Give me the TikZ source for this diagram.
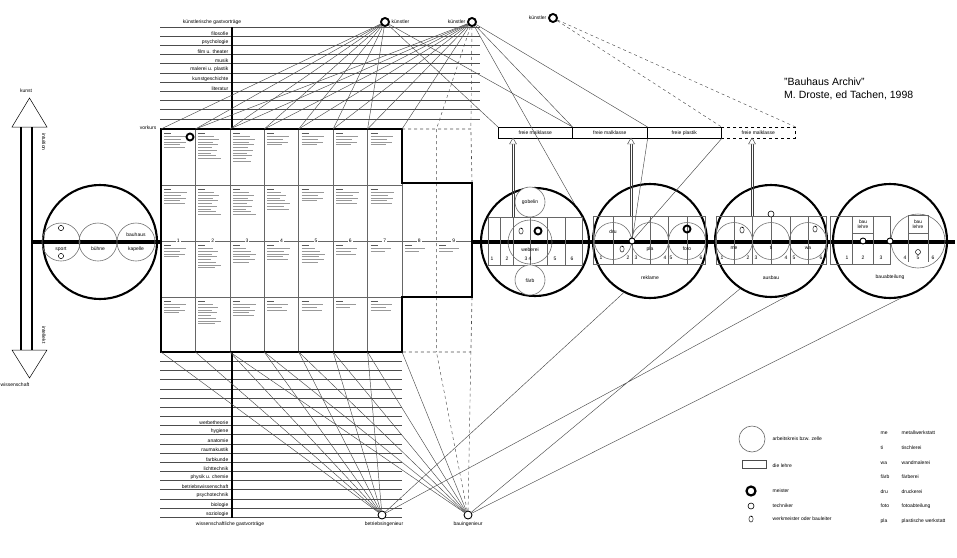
\documentclass[tikz,border=0pt]{standalone}
\usepackage{fontspec}
\setmainfont{Liberation Sans}
\usetikzlibrary{arrows.meta,calc}
\newcommand\celltext[3]{%
  \draw[line width=0.9pt, black!65] ({#1+3},{#2+4}) -- ++(7,0);
  \foreach \j in {1,...,#3} \draw[txt] ({#1+3},{#2+5+2.7*\j}) -- ++({13+mod(5*\j+#3,11)},0);
}
\newcommand\hollowarrow[3]{% x, ybottom, ytop
  \draw[line width=0.45pt, black!75] ({#1-1.1},#2) -- ({#1-1.1},{#3+6}) ({#1+1.1},#2) -- ({#1+1.1},{#3+6});
  \draw[line width=0.45pt, black!75, fill=white] ({#1-3.5},{#3+6}) -- ({#1+3.5},{#3+6}) -- (#1,#3) -- cycle;
}
\begin{document}
\begin{tikzpicture}[x=1pt,y=-1pt,
  bigc/.style={circle, draw, line width=2.1pt, inner sep=0pt},
  inc/.style={draw=black!55, line width=0.6pt},
  thinl/.style={draw=black!70, line width=0.45pt},
  txt/.style={draw=black!40, line width=0.8pt},
  meister/.style={circle, draw, line width=1.9pt, minimum size=8pt, inner sep=0pt},
  techn/.style={circle, draw, line width=0.9pt, fill=white, minimum size=7pt, inner sep=0pt},
  lbl/.style={font=\fontsize{5}{6}\selectfont, inner sep=0.5pt},
  werk/.pic={\draw[line width=0.55pt, black!80] (0,0) ellipse [x radius=2.1, y radius=3.1]; \draw[line width=0.5pt] (0.3,-3.1) -- (0.3,-1.6);},
]
\useasboundingbox (0,0) rectangle (957,557);

% ---------- left arrow kunst / wissenschaft
\draw[line width=0.5pt, fill=white] (12,127) -- (47,127) -- (29.5,98) -- cycle;
\draw[line width=0.5pt, fill=white] (12,350) -- (47,350) -- (29.5,378) -- cycle;
\draw[line width=1.5pt] (21,127) -- (21,350) (32,127) -- (32,350);
\node[lbl] (kunst) at (26,91) {kunst};
\node[lbl, anchor=west] (wiss) at (0,385) {wissenschaft};
\node[lbl, rotate=-90] (intu) at (44,142) {intuition};
\node[lbl, rotate=-90] (intel) at (44,335) {intellekt};

% ---------- main axis
\draw[line width=3.5pt] (32,242) -- (161,242);
\draw[line width=3.5pt] (472,242) -- (955,242);

% ---------- left circle
\node[bigc, minimum size=114pt] (lc) at (100,242) {};
\draw[inc] (61,242) circle[radius=19pt] (98,242) circle[radius=19pt] (136,242) circle[radius=19pt];
\node[lbl] (sport) at (61,249) {sport};
\node[lbl] (buehne) at (98,249) {bühne};
\node[lbl] (bauh) at (136,235) {bauhaus};
\node[lbl] (kap) at (136,249) {kapelle};
\draw[line width=0.5pt] (61,228) circle[radius=2.6pt] (61,256) circle[radius=2.6pt];

% ---------- top list
\foreach \k in {0,...,10} \draw[thinl] (160,{27+9.18*\k}) -- (480,{27+9.18*\k});
\draw[line width=1.8pt] (232,27) -- (232,129);
\node[lbl] (kgv) at (212,22.5) {künstlerische gastvorträge};
\foreach \k/\t in {1/filosofie,2/psychologie,3/film u. theater,4/musik,5/malerei u. plastik,6/kunstgeschichte,7/literatur}
  \node[lbl, anchor=south east] at (229,{27+9.18*\k-0.3}) {\t};

% ---------- bottom list
\foreach \k in {1,...,18} \draw[thinl] (160,{352+9.18*\k}) -- (402,{352+9.18*\k});
\draw[line width=1.8pt] (232,352) -- (232,518);
\foreach \k/\t in {8/werbetheorie,9/hygiene,10/anatomie,11/raumakustik,12/farbkunde,13/lichttechnik,14/physik u. chemie,15/betriebswissenschaft,16/psychotechnik,17/biologie,18/soziologie}
  \node[lbl, anchor=south east] at (229,{352+9.18*\k-0.3}) {\t};
\node[lbl] (wgv) at (230,524.5) {wissenschaftliche gastvorträge};

% ---------- grid
\foreach \i in {0,...,9} {
  \coordinate (t\i) at ({161+34.43*\i},129);
  \coordinate (b\i) at ({161+34.43*\i},352);
}
\foreach \i in {1,...,6} \draw[line width=0.5pt, black!60] ({161+34.43*\i},129) -- ({161+34.43*\i},352);
\draw[line width=0.5pt, black!60] (161,185) -- (402,185) (161,297) -- (402,297) (402,183) -- (402,297);
\draw[line width=0.5pt, black!60] (161,241) -- (472,241);
\draw[line width=0.6pt, black!70, dashed] (t7) -- (t9) -- (472,183) (472,297) -- (b9) -- (b7) (t8) -- (b8);
\draw[line width=1.8pt] (161,129) -- (402,129) -- (402,183) -- (472,183) -- (472,297) -- (402,297) -- (402,352) -- (161,352) -- cycle;
\foreach \i/\n in {0/5,1/9,2/10,3/4,4/4,5/4,6/4} {\pgfmathsetmacro\cx{161+34.43*\i}\celltext{\cx}{129}{\n}}
\foreach \i/\n in {0/5,1/9,2/9,3/7,4/4,5/5,6/5} {\pgfmathsetmacro\cx{161+34.43*\i}\celltext{\cx}{185}{\n}}
\foreach \i/\n in {0/4,1/8,2/6,3/5,4/6,5/3,6/2,7/2,8/2} {\pgfmathsetmacro\cx{161+34.43*\i}\celltext{\cx}{241}{\n}}
\foreach \i/\n in {0/4,1/8,2/5,3/3,4/3,5/2,6/3} {\pgfmathsetmacro\cx{161+34.43*\i}\celltext{\cx}{297}{\n}}
\foreach \i in {1,...,9} \node[lbl, fill=white, inner sep=1pt] at ({161+34.43*\i-17.2},241) {\i};
\node[meister, minimum size=7pt] (vm) at (190,137) {};
\node[lbl, anchor=east] (vork) at (157,128) {vorkurs};

% ---------- künstler
\node[meister] (k1) at (385,22) {};
\node[lbl, anchor=west] at (391,22) {künstler};
\node[meister] (k2) at (472,22) {};
\node[lbl, anchor=east] at (466,22) {künstler};
\node[meister] (k3) at (553,18) {};
\node[lbl, anchor=east] at (547,18) {künstler};

\foreach \i in {0,...,6} \draw[thinl] (k1) -- (t\i);
\foreach \i in {1,...,7} \draw[thinl] (k2) -- (t\i);
\draw[thinl, dashed] (k2) -- (t8) (k2) -- (t9);

% ---------- freie klassen
\node[draw, line width=0.6pt, minimum width=74pt, minimum height=11pt, anchor=north west, lbl] (f1) at (498,127) {freie malklasse};
\node[draw, line width=0.6pt, minimum width=75pt, minimum height=11pt, anchor=north west, lbl] (f2) at (572,127) {freie malklasse};
\node[draw, line width=0.6pt, minimum width=74pt, minimum height=11pt, anchor=north west, lbl] (f3) at (647,127) {freie plastik};
\node[draw, line width=0.6pt, dashed, minimum width=74pt, minimum height=11pt, anchor=north west, lbl] (f4) at (721,127) {freie malklasse};
\draw[thinl] (k1) -- (f1.north west) (k1) -- (f1.north east) (k2) -- (f1.north east) (k2) -- (f2.north east) (k2) -- (582,217);
\draw[thinl, dashed] (k3) -- (f3.north east) (k3) -- (f4.north east);

% ---------- circle A
\node[bigc, minimum size=108pt] (ca) at (535,242) {};
\draw[line width=0.45pt, black!60] (488,217) rectangle (582,265);
\foreach \x in {500,513,530,547,565} \draw[line width=0.45pt, black!60] (\x,217) -- (\x,265);
\draw[inc, fill=white] (530,202) circle[radius=15pt] (530,280) circle[radius=15pt];
\draw[inc] (530,242) circle[radius=22pt];
\node[lbl] (gob) at (530,202) {gobelin};
\node[lbl] (web) at (530,249.5) {weberei};
\node[lbl] (farb) at (530,281) {färb};
\pic at (521,231) {werk};
\node[meister, minimum size=7pt] (ma) at (538,231) {};
\foreach \x/\t in {492/1,507/2,528/3 4,555/5,572/6} \node[lbl] at (\x,259) {\t};
\hollowarrow{513}{217}{138}

% ---------- circle B
\node[bigc, minimum size=114pt] (cb) at (650,241) {};
\draw[line width=0.45pt, black!60] (593,216) rectangle (705,264);
\foreach \x in {613,632,650,668,687} \draw[line width=0.45pt, black!60] (\x,216) -- (\x,264);
\draw[inc] (613,241) circle[radius=18.5pt] (650,241) circle[radius=18.5pt] (687,241) circle[radius=18.5pt];
\node[lbl] (dru) at (613,232) {dru};
\node[lbl] (pla) at (650,249) {pla};
\node[lbl] (foto) at (687,249) {foto};
\pic at (622,249) {werk};
\node[meister, minimum size=7pt] (mb) at (687,229) {};
\foreach \x/\t in {601/1,628/2,636/3,665/4,671/5,701/6} \node[lbl] at (\x,258) {\t};
\node[lbl] (rekl) at (650,278) {reklame};
\hollowarrow{631}{216}{138}
\node[techn, minimum size=6pt] (tb) at (632,241) {};
\draw[thinl] (tb) -- (f2.south east) (tb) -- (f3.south east);

% ---------- circle C
\node[bigc, minimum size=112pt] (cc) at (771,241) {};
\draw[line width=0.45pt, black!60] (716,216) rectangle (826,264);
\foreach \x in {734,752,771,790,808} \draw[line width=0.45pt, black!60] (\x,216) -- (\x,264);
\draw[inc] (734,241) circle[radius=18.5pt] (771,241) circle[radius=18.5pt] (808,241) circle[radius=18.5pt];
\node[lbl] (me) at (734,248) {me};
\node[lbl] (ti) at (771,248) {ti};
\node[lbl] (wa) at (808,248) {wa};
\pic at (742,230) {werk};
\pic at (815,229) {werk};
\foreach \x/\t in {722/1,748/2,756/3,786/4,794/5,821/6} \node[lbl] at (\x,258) {\t};
\node[lbl] (ausb) at (771,278) {ausbau};
\hollowarrow{752}{216}{138}
\node[techn, minimum size=6pt, line width=0.6pt] (tc) at (771,214) {};

% ---------- circle D
\node[bigc, minimum size=114pt] (cd) at (890,241) {};
\draw[line width=0.45pt, black!60] (830,216) rectangle (890,264);
\foreach \x in {852,873} \draw[line width=0.45pt, black!60] (\x,216) -- (\x,264);
\draw[line width=0.45pt, black!60] (853,233) -- (873,233);
\node[lbl, align=center, font=\fontsize{4.8}{5}\selectfont] (bl1) at (863,224) {bau\\lehre};
\draw[inc] (918,241) circle[radius=27pt];
\draw[line width=0.45pt, black!60] (908,215) -- (908,262) (928,215) -- (928,262) (908,215) -- (928,215) (908,233) -- (928,233);
\node[lbl, align=center, font=\fontsize{4.8}{5}\selectfont] (bl2) at (918,224) {bau\\lehre};
\draw[line width=0.5pt] (918,252) circle[radius=2.5pt];
\node[techn, minimum size=6pt] (td1) at (863,241) {};
\node[techn, minimum size=6pt] (td2) at (890,241) {};
\foreach \x/\t in {847/1,863/2,881/3,905/4,918/5,933/6} \node[lbl] at (\x,258) {\t};
\node[lbl] (baua) at (890,277) {bauabteilung};

% ---------- engineers
\node[techn, minimum size=8pt] (e1) at (382,515) {};
\node[lbl] at (384,524.5) {betriebsingenieur};
\node[techn, minimum size=8pt] (e2) at (468,515) {};
\node[lbl] at (468,524.5) {bauingenieur};
\foreach \i in {0,...,6} \draw[thinl] (e1) -- (b\i);
\foreach \i in {2,...,7} \draw[thinl] (e2) -- (b\i);
\draw[thinl, dashed] (e2) -- (b8) (e2) -- (b9);
\draw[thinl] (e1) -- (cb.243) (e1) -- (cc.288) (e2) -- (cc.237) (e2) -- (cd.281);

% ---------- source
\node[anchor=west, font=\fontsize{10.5}{12}\selectfont, inner sep=0] (src1) at (784,82) {"Bauhaus Archiv"};
\node[anchor=west, font=\fontsize{10.5}{12}\selectfont, inner sep=0] (src2) at (784,95) {M. Droste, ed Tachen, 1998};

% ---------- legend
\node[circle, draw=black!60, line width=0.6pt, minimum size=26pt, inner sep=0] (lg1) at (752,439) {};
\node[lbl, anchor=west] at (772,439) {arbeitskreis bzw. zelle};
\node[draw=black!70, line width=0.6pt, minimum width=24pt, minimum height=8pt, inner sep=0] (lg2) at (754,464) {};
\node[lbl, anchor=west] at (772,466) {die lehre};
\node[meister, minimum size=9pt, line width=2.2pt] (lg3) at (751,491) {};
\node[lbl, anchor=west] at (772,491) {meister};
\node[circle, draw, line width=0.6pt, minimum size=6pt, inner sep=0] (lg4) at (751,506) {};
\node[lbl, anchor=west] at (772,506) {techniker};
\pic at (751,519) {werk};
\node[lbl, anchor=west] at (772,519) {werkmeister oder bauleiter};
\foreach \y/\a/\t in {433/me/metallwerkstatt,448/ti/tischlerei,463/wa/wandmalerei,477/färb/färberei,492/dru/druckerei,506/foto/fotoabteilung,521/pla/plastische werkstatt} {
  \node[lbl, anchor=west] at (880,\y) {\a};
  \node[lbl, anchor=west] at (901,\y) {\t};
}
\end{tikzpicture}
\end{document}
